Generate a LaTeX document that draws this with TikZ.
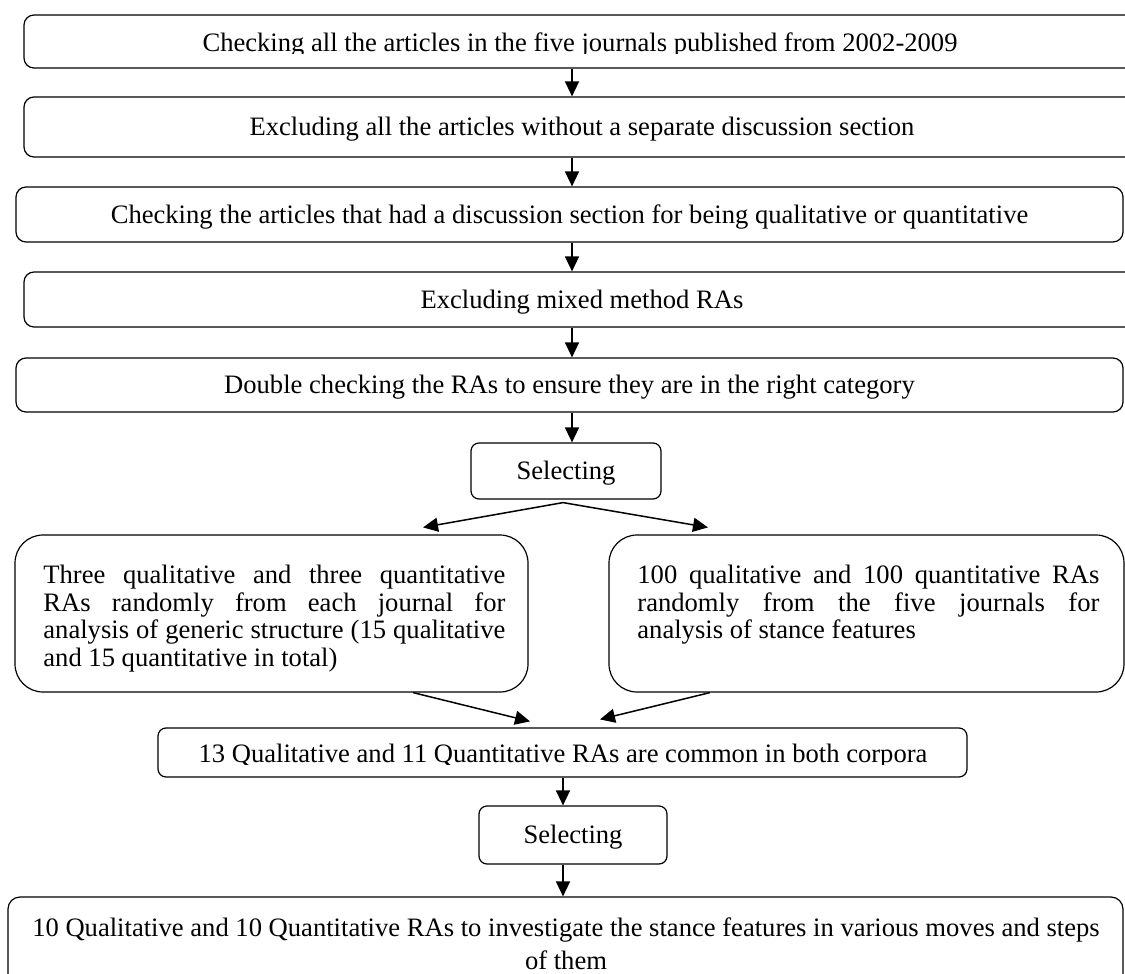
\documentclass[tikz,border=0pt]{standalone}
\usepackage{fontspec}
\setmainfont{Liberation Serif}
\usetikzlibrary{arrows.meta}
\newcommand{\fsz}{\fontsize{13.3}{13.7}\selectfont}
\begin{document}
\begin{tikzpicture}[x=0.5pt,y=-0.5pt,
 box/.style={draw, line width=0.6pt, rounded corners=5pt, inner sep=0pt, text height=9pt, text depth=0.5pt, font=\fsz},
 bigbox/.style={draw, line width=0.6pt, rounded corners=14pt, inner sep=0pt},
 txt/.style={inner sep=0pt, font=\fsz},
 arr/.style={line width=0.75pt, -{Triangle[length=7.5pt,width=7pt]}}]
\useasboundingbox (0,0) rectangle (1125,974);
\clip (0,0) rectangle (1125,974);

\node[box, minimum width=558pt, minimum height=26.5pt] (b1) at (582,41.5) {};
\begin{scope}
\clip (0,15) rectangle (1125,53.5);
\node[txt, anchor=base] (t1) at (580,52) {Checking all the articles in the five journals published from 2002-2009};
\end{scope}
\node[box, minimum width=558pt, minimum height=30pt] (b2) at (582,127) {Excluding all the articles without a separate discussion section};
\node[box, minimum width=553.5pt, minimum height=27.5pt] (b3) at (569.5,214.5) {Checking the articles that had a discussion section for being qualitative or quantitative};
\node[box, minimum width=558pt, minimum height=27.5pt] (b4) at (582,299.5) {Excluding mixed method RAs};
\node[box, minimum width=553.5pt, minimum height=27pt] (b5) at (569.5,385) {Double checking the RAs to ensure they are in the right category};
\node[box, rounded corners=4pt, minimum width=95pt, minimum height=28pt] (s1) at (566,471) {Selecting};

\node[bigbox, minimum width=256.5pt, minimum height=78.5pt] (L) at (271.5,613.5) {};
\node[txt, anchor=north west, text width=231pt, align=justify] (Lt) at (43,565) {Three qualitative and three quantitative\linebreak RAs randomly from each journal for\linebreak analysis of generic structure (15 qualitative\linebreak and 15 quantitative in total)};
\node[bigbox, minimum width=257.5pt, minimum height=78.5pt] (R) at (866.5,613.5) {};
\node[txt, anchor=north west, text width=231pt, align=justify] (Rt) at (637,565) {100 qualitative and 100 quantitative RAs\linebreak randomly from the five journals for\linebreak analysis of stance features};

\node[box, rounded corners=4pt, minimum width=404.5pt, minimum height=24.5pt] (M) at (562.5,752.5) {};
\begin{scope}
\clip (158,728) rectangle (967,764);
\node[txt, anchor=base] (Mt) at (563,762) {13 Qualitative and 11 Quantitative RAs are common in both corpora};
\end{scope}
\node[box, rounded corners=4pt, minimum width=94pt, minimum height=29pt] (s2) at (573,835) {Selecting};
\node[bigbox, rounded corners=6pt, minimum width=557.5pt, minimum height=46.5pt] (F) at (565.5,943.5) {};
\node[txt, align=center, anchor=north, font=\fontsize{13.3}{16.5}\selectfont] (Ft) at (566,917) {10 Qualitative and 10 Quantitative RAs to investigate the stance features in various moves and steps\\ of them};

\coordinate (ax) at (572,0);
\draw[arr] (b1.south -| ax) -- (b2.north -| ax);
\draw[arr] (b2.south -| ax) -- (b3.north -| ax);
\draw[arr] (b3.south -| ax) -- (b4.north -| ax);
\draw[arr] (b4.south -| ax) -- (b5.north -| ax);
\draw[arr] (b5.south -| ax) -- (s1.north -| ax);
\draw[arr] ([xshift=-1.5pt,yshift=-1.5pt]s1.south) -- ([xshift=75.75pt,yshift=3.5pt]L.north);
\draw[arr] ([xshift=-1.5pt,yshift=-1.5pt]s1.south) -- ([xshift=-79.25pt,yshift=3.5pt]R.north);
\draw[arr] ([xshift=70.75pt]L.south) -- ([xshift=-16.25pt,yshift=3pt]M.north);
\draw[arr] ([xshift=-78.25pt]R.south) -- ([xshift=18.75pt,yshift=4pt]M.north);
\coordinate (bx) at (563,0);
\draw[arr] (M.south -| bx) -- (s2.north -| bx);
\draw[arr] (s2.south -| bx) -- (F.north -| bx);
\end{tikzpicture}
\end{document}
